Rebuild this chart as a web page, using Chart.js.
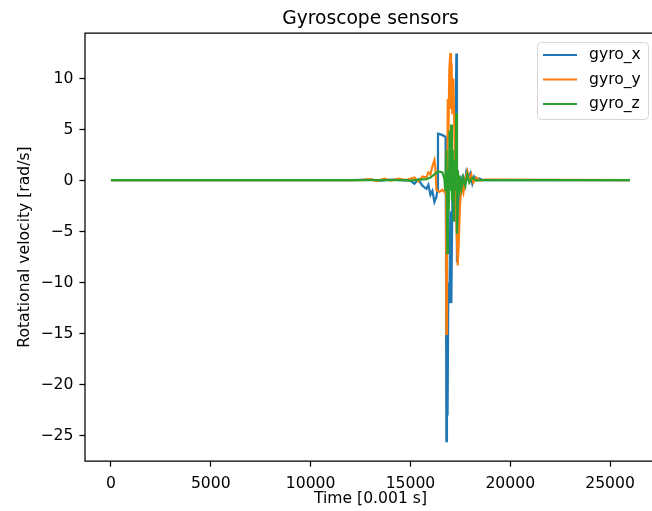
<!DOCTYPE html>
<html>
<head>
<meta charset="utf-8">
<title>Gyroscope sensors</title>
<script src="https://cdn.jsdelivr.net/npm/chart.js@4.4.1/dist/chart.umd.min.js"></script>
<style>
  html, body { margin: 0; padding: 0; background: #fff; overflow: hidden; width: 652px; height: 511px; }
  #wrap { width: 664px; height: 511px; }
</style>
</head>
<body>
<div id="wrap"><canvas id="gyro" width="664" height="511"></canvas></div>
<script>
// time stamps [0.001 s] and angular rates [rad/s] per axis
const gyroXTime = [0, 12000, 13000, 13500, 14000, 14500, 15000, 15200, 15400, 15600, 15800, 15900,
  16000, 16100, 16200, 16300, 16350, 16380, 16550, 16760, 16780, 16800, 16830, 16860, 16900, 16950,
  17000, 17050, 17100, 17150, 17200, 17260, 17300, 17330, 17370, 17400, 17450, 17500, 17600, 17700,
  17800, 17900, 18000, 18100, 18200, 18300, 18450, 18600, 18800, 26000];
const gyroX = [0.05, 0.05, 0.1, 0.0, 0.1, 0.05, 0.0, -0.3, 0.1, -0.5, -0.8, -0.4,
  -1.4, -1.0, -2.1, -1.6, -1.0, 4.6, 4.5, 4.3, -6, -25.5, -19, -23, -10, -12,
  -3, -12, -2, 0.5, -4, 5, 12.45, -8, -3, -5, -1, -0.5, 0.3, -0.5,
  0.85, 0.2, 0.7, -0.3, 0.4, 0.1, 0.2, 0.05, 0.05, 0.05];

const gyroYTime = [0, 12500, 13000, 13300, 13700, 14000, 14400, 14800, 15200, 15400, 15600, 15800,
  15900, 16000, 16100, 16200, 16250, 16300, 16450, 16600, 16750, 16780, 16800, 16830, 16870, 16900,
  16950, 17000, 17030, 17060, 17100, 17150, 17200, 17250, 17300, 17370, 17420, 17480, 17550, 17650,
  17750, 17850, 17950, 18050, 18150, 18300, 18500, 18700, 26000];
const gyroY = [0.05, 0.05, 0.15, -0.05, 0.2, 0.0, 0.2, 0.05, 0.3, -0.1, 0.4, 0.3,
  0.8, 0.6, 1.4, 2.0, 1.2, -0.9, -1.1, -0.9, -1.2, 3, -15, -5, 8, 4,
  11, 12.5, 7, 11.5, 6.5, 10, 5, 0, -4, -8.3, -6, -2.5, -0.5, -1.2,
  0.2, 0.9, 0.0, 0.6, -0.2, 0.3, 0.0, 0.1, 0.05];

const gyroZTime = [0, 14800, 15000, 15500, 15800, 16000, 16200, 16400, 16600, 16700, 16750, 16800,
  16850, 16880, 16920, 16960, 17000, 17040, 17080, 17120, 17160, 17200, 17240, 17300, 17330, 17380,
  17420, 17480, 17550, 17650, 17750, 17850, 17950, 18100, 18300, 18500, 26000];
const gyroZ = [0.05, 0.05, 0.0, 0.1, 0.15, 0.3, 0.6, 0.9, 0.8, 0.2, -1, 3,
  -7.1, 1, -3, 4.9, -1, 5.5, -2, 3, -4, 2, -1, 6.6, -5.2, 1,
  -1.5, 0.5, -0.8, 0.3, -0.5, 0.6, -0.2, 0.3, 0.0, 0.05, 0.05];

const seriesNames = ["gyro_x", "gyro_y", "gyro_z"];
const seriesColors = ["#1f77b4", "#ff7f0e", "#2ca02c"];
const xTicks = [0, 5000, 10000, 15000, 20000, 25000];
const yTicks = [-25, -20, -15, -10, -5, 0, 5, 10];
const chartTitle = "Gyroscope sensors";

const FONT = "'DejaVu Sans', sans-serif";
const pts = (ts, vs) => ts.map((t, i) => ({ x: t, y: vs[i] }));
const minus = (v) => (v < 0 ? "\u2212" + Math.abs(v) : String(v));

// left, top and bottom spines drawn over the lines; the right one sits past the page edge
const frame = {
  id: "frame",
  afterDatasetsDraw(chart) {
    const { ctx, chartArea: a } = chart;
    ctx.save();
    ctx.strokeStyle = "#000";
    ctx.lineWidth = 1.25;
    ctx.beginPath();
    ctx.moveTo(a.right, a.top);
    ctx.lineTo(a.left, a.top);
    ctx.lineTo(a.left, a.bottom);
    ctx.lineTo(a.right, a.bottom);
    ctx.stroke();
    ctx.restore();
  },
};

// title centred over the plot area, not the canvas
const axesTitle = {
  id: "axesTitle",
  afterDraw(chart) {
    const { ctx, chartArea: a } = chart;
    ctx.save();
    ctx.font = "18.7px " + FONT;
    ctx.fillStyle = "#000";
    ctx.textAlign = "center";
    ctx.textBaseline = "alphabetic";
    ctx.fillText(chartTitle, (a.left + a.right) / 2, a.top - 9.2);
    ctx.restore();
  },
};

// boxed legend in the upper right corner
const boxLegend = {
  id: "boxLegend",
  afterDraw(chart) {
    const { ctx } = chart;
    const x0 = 537.5, y0 = 42.5, w = 111, h = 77, r = 4;
    ctx.save();
    ctx.beginPath();
    ctx.roundRect(x0, y0, w, h, r);
    ctx.fillStyle = "rgba(255,255,255,0.8)";
    ctx.fill();
    ctx.strokeStyle = "#d6d6d6";
    ctx.lineWidth = 1;
    ctx.stroke();
    ctx.font = "15.6px " + FONT;
    ctx.textBaseline = "middle";
    ctx.fillStyle = "#000";
    chart.data.datasets.forEach((ds, i) => {
      const y = 55 + i * 24.5;
      ctx.beginPath();
      ctx.moveTo(543, y);
      ctx.lineTo(577, y);
      ctx.strokeStyle = ds.borderColor;
      ctx.lineWidth = 2.2;
      ctx.stroke();
      ctx.fillText(ds.label, 589, y);
    });
    ctx.restore();
  },
};

const datasets = [pts(gyroXTime, gyroX), pts(gyroYTime, gyroY), pts(gyroZTime, gyroZ)].map((d, i) => ({
  label: seriesNames[i],
  data: d,
  borderColor: seriesColors[i],
  backgroundColor: seriesColors[i],
  borderWidth: 2.2,
  pointRadius: 0,
  tension: 0,
  order: 2 - i,
}));

new Chart(document.getElementById("gyro"), {
  type: "line",
  data: { datasets },
  plugins: [frame, axesTitle, boxLegend],
  options: {
    responsive: false,
    animation: false,
    devicePixelRatio: 1,
    layout: { padding: { left: 0, right: 8, top: 33, bottom: 0 } },
    plugins: {
      legend: { display: false },
      tooltip: { enabled: false },
      title: { display: false },
    },
    scales: {
      x: {
        type: "linear",
        min: -1300,
        max: 27300,
        afterBuildTicks: (s) => { s.ticks = xTicks.map((v) => ({ value: v })); },
        afterFit: (s) => { s.height = 50; },
        grid: { display: true, drawOnChartArea: false, tickLength: 5.6, tickColor: "#000", tickWidth: 1.25 },
        border: { display: false },
        ticks: { color: "#000", font: { family: FONT, size: 15.6 }, padding: 7.5, maxRotation: 0, callback: (v) => String(v) },
        title: { display: true, text: "Time [0.001 s]", color: "#000", font: { family: FONT, size: 15.6 }, padding: { top: 0, bottom: 2.4 } },
      },
      y: {
        type: "linear",
        min: -27.45,
        max: 14.45,
        afterBuildTicks: (s) => { s.ticks = yTicks.map((v) => ({ value: v })); },
        afterFit: (s) => { s.width = 85; },
        grid: { display: true, drawOnChartArea: false, tickLength: 5.6, tickColor: "#000", tickWidth: 1.25 },
        border: { display: false },
        ticks: { color: "#000", font: { family: FONT, size: 15.6 }, padding: 6, callback: (v) => minus(v) },
        title: { display: true, text: "Rotational velocity [rad/s]", color: "#000", font: { family: FONT, size: 15.6 }, padding: { top: 15.8, bottom: 0 } },
      },
    },
  },
});
</script>
</body>
</html>
